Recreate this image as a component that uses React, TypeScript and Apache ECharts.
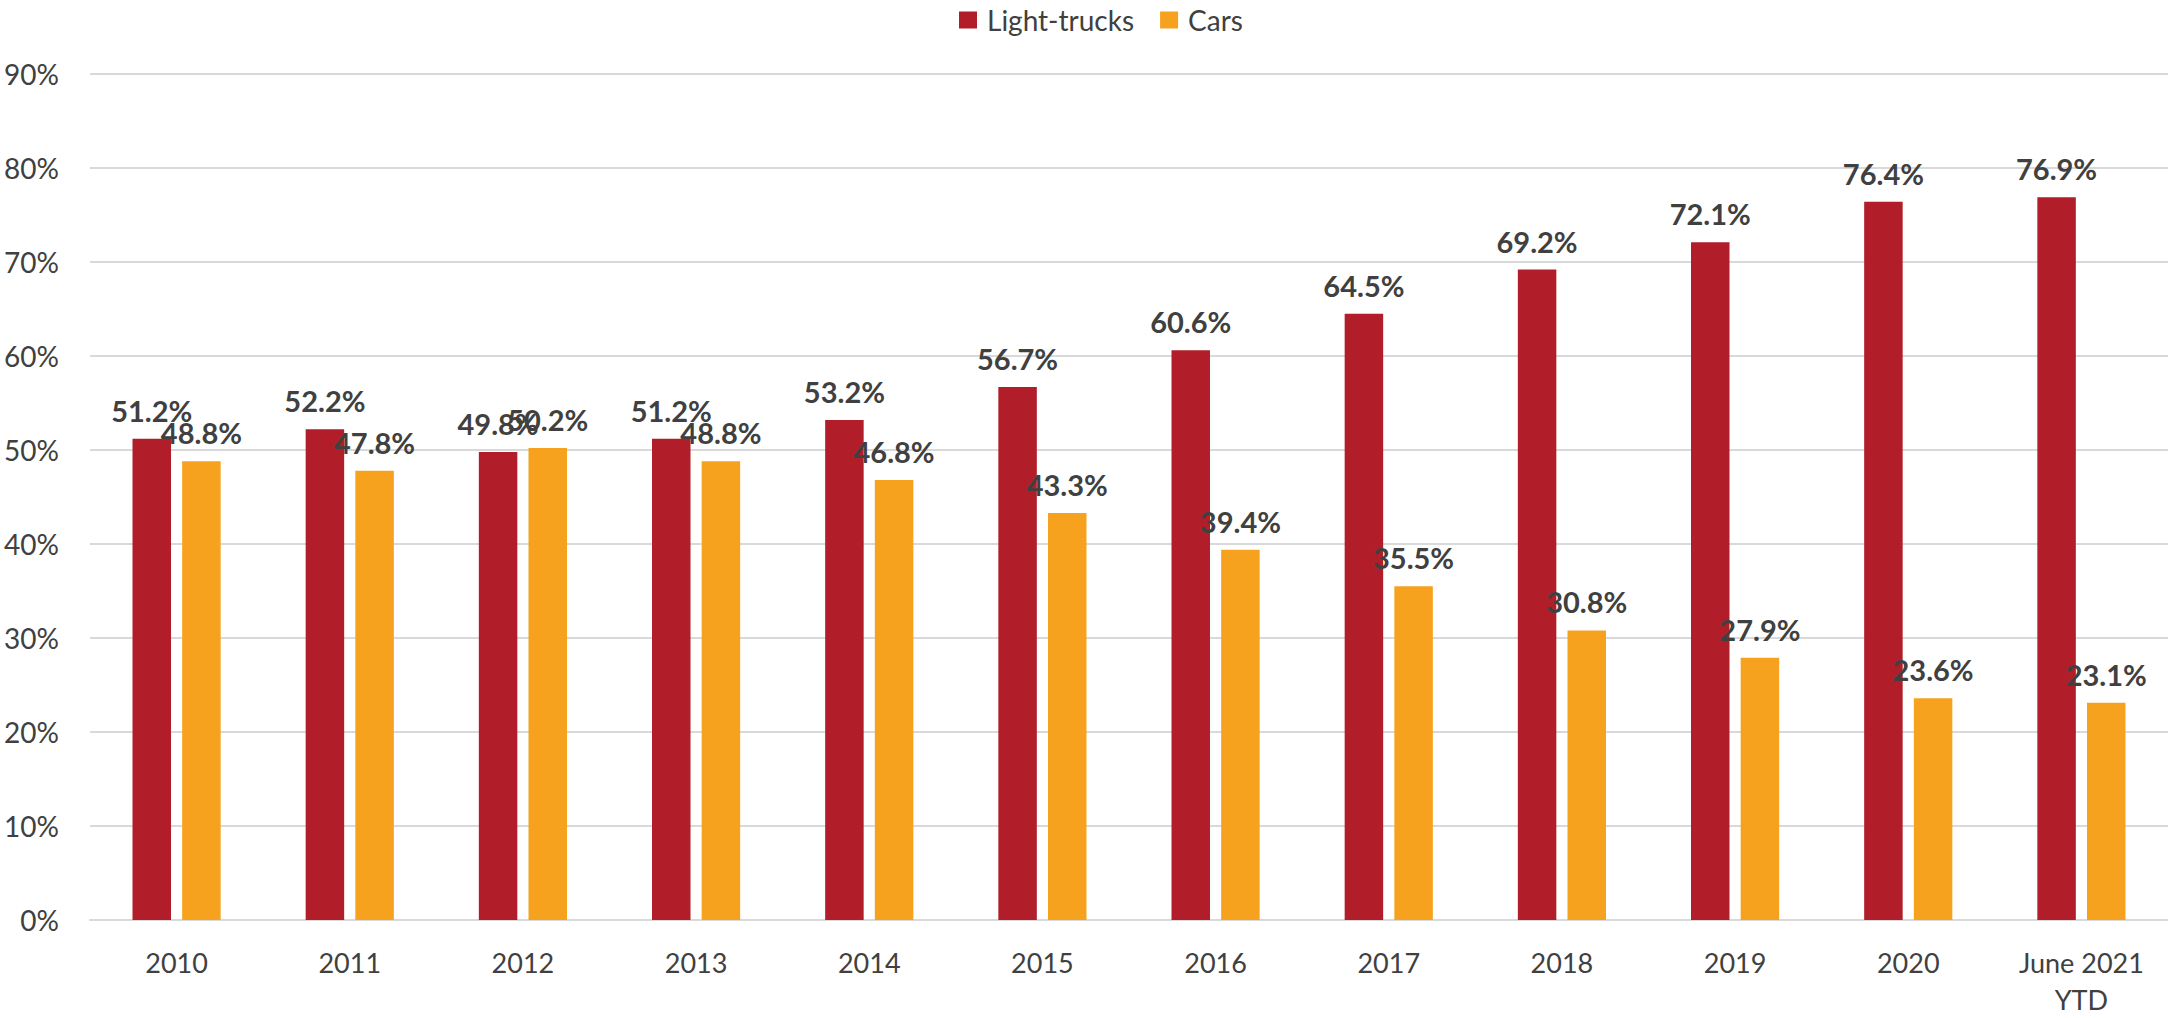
import React, { useEffect, useRef } from "react";
import * as echarts from "echarts";

const categories = ["2010", "2011", "2012", "2013", "2014", "2015", "2016", "2017", "2018", "2019", "2020", "June 2021\nYTD"];
const lightTrucks = [51.2, 52.2, 49.8, 51.2, 53.2, 56.7, 60.6, 64.5, 69.2, 72.1, 76.4, 76.9];
const cars = [48.8, 47.8, 50.2, 48.8, 46.8, 43.3, 39.4, 35.5, 30.8, 27.9, 23.6, 23.1];
const yTicks = [0, 10, 20, 30, 40, 50, 60, 70, 80, 90];

const RED = "#B11E29";
const ORANGE = "#F6A21E";
const TEXT = "#404040";
const FONT = "Lato, 'Open Sans', sans-serif";

export default function App() {
  const ref = useRef<HTMLDivElement>(null);
  useEffect(() => {
    if (!ref.current) return;
    const chart = echarts.init(ref.current, null, { renderer: "svg" });
    const labelCfg = {
      show: true,
      position: "top",
      distance: 14,
      color: TEXT,
      fontFamily: FONT,
      fontWeight: "bold",
      fontSize: 29,
      formatter: (p: any) => `${Number(p.value).toFixed(1)}%`,
    };
    chart.setOption({
      animation: false,
      backgroundColor: "#ffffff",
      textStyle: { fontFamily: FONT },
      legend: {
        left: 954,
        top: 1,
        icon: "rect",
        itemWidth: 18,
        itemHeight: 17,
        itemGap: 26,
        textStyle: { color: TEXT, fontSize: 28, fontFamily: FONT, padding: [0, 0, 0, 5] },
        data: ["Light-trucks", "Cars"],
      },
      grid: { left: 90, right: 0, top: 74, bottom: 92, containLabel: false },
      xAxis: {
        type: "category",
        data: categories,
        axisTick: { show: false },
        axisLine: { show: true, lineStyle: { color: "#d9d9d9", width: 2 } },
        axisLabel: {
          color: TEXT,
          fontSize: 27,
          fontFamily: FONT,
          margin: 24,
          lineHeight: 37,
          interval: 0,
        },
      },
      yAxis: {
        type: "value",
        min: yTicks[0],
        max: yTicks[yTicks.length - 1],
        interval: 10,
        axisLine: { show: false },
        axisTick: { show: false },
        splitLine: { lineStyle: { color: "#d9d9d9", width: 2 } },
        axisLabel: {
          color: TEXT,
          fontSize: 28,
          fontFamily: FONT,
          margin: 31,
          formatter: (v: number) => `${v}%`,
        },
      },
      series: [
        {
          name: "Light-trucks",
          type: "bar",
          data: lightTrucks,
          barWidth: 38.5,
          barGap: "29%",
          itemStyle: { color: RED },
          label: labelCfg,
        },
        {
          name: "Cars",
          type: "bar",
          data: cars,
          barWidth: 38.5,
          barGap: "29%",
          itemStyle: { color: ORANGE },
          label: labelCfg,
        },
      ],
    });
    return () => chart.dispose();
  }, []);
  return (
    <div
      ref={ref}
      style={{ position: "fixed", left: 0, top: 0, width: 2168, height: 1018 }}
    />
  );
}
